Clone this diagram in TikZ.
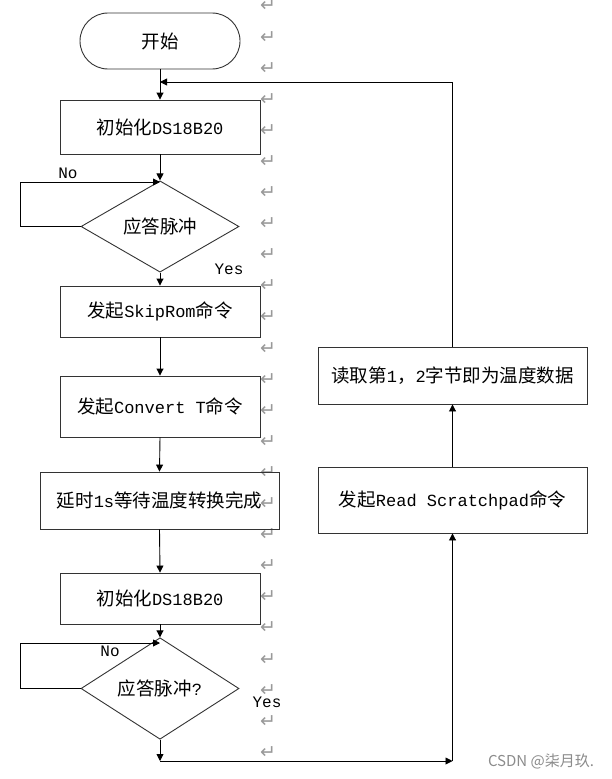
\documentclass[tikz,border=0pt]{standalone}
\usepackage{fontspec}
\setmainfont{Noto Sans CJK SC}
\newfontfamily\monofam{Liberation Mono}
\newfontfamily\symfam{DejaVu Sans}
\usetikzlibrary{shapes.geometric,arrows.meta}
\newcommand\lat[1]{{\monofam\fontsize{17}{20}\selectfont #1}}
\begin{document}
\begin{tikzpicture}[x=1pt,y=-1pt,line width=0.9pt,
  font=\fontsize{18.5}{20}\selectfont,
  box/.style={draw=black!80, rectangle, inner sep=0pt, minimum width=200pt},
  dec/.style={draw=black!80, diamond, inner sep=0pt, minimum width=158pt, minimum height=69pt},
  arr/.style={-{Triangle[length=7pt,width=7pt]}},
  lbl/.style={font=\monofam\fontsize{16}{18}\selectfont, inner sep=0pt},
  ret/.style={text=black!40, font=\symfam\fontsize{19}{20}\selectfont, inner sep=0pt},
  wm/.style={text=black!45, font=\fontsize{15}{16}\selectfont, inner sep=0pt}]
\fill[white] (0,0) rectangle (611,779);
\useasboundingbox (0,0) rectangle (611,779);

% paragraph marks
\foreach \i in {0,...,24}{
  \node[ret] (ret\i) at (268,{6+31.1*\i}) {↵};
}

% nodes
\node[draw=black!80, rectangle, rounded corners=28pt, minimum width=160pt, minimum height=56pt, inner sep=0pt] (start) at (160,41) {开始};
\node[box, minimum height=54pt] (init1) at (160,127) {初始化\lat{DS18B20}};
\node[dec] (d1) at (160,226.5) {应答脉冲};
\node[box, minimum height=51pt] (skip) at (160,311.5) {发起\lat{SkipRom}命令};
\node[box, minimum height=61pt] (conv) at (160,406.5) {发起\lat{Convert T}命令};
\node[box, minimum width=239pt, minimum height=57pt] (delay) at (159.5,500.5) {延时\lat{1s}等待温度转换完成};
\node[box, minimum height=51pt] (init2) at (160,598.5) {初始化\lat{DS18B20}};
\node[dec, minimum height=61pt] (d2) at (160,688.5) {应答脉冲\lat{?}};
\node[box, minimum width=269pt, minimum height=66pt] (rsp) at (452.5,500) {发起\lat{Read Scratchpad}命令};
\node[box, minimum width=269pt, minimum height=57pt] (data) at (452.5,375.5) {读取第\lat{1}，\lat{2}字节即为温度数据};

% labels
\node[lbl] (no1) at (68,173) {No};
\node[lbl] (yes1) at (229,269) {Yes};
\node[lbl] (no2) at (110,651) {No};
\node[lbl] (yes2) at (267,702) {Yes};
\node[wm] (wmark) at (541,761) {CSDN @柒月玖.};

% coordinates
\coordinate (merge) at (160,82);
\coordinate (l1a) at (20,226.5);
\coordinate (l1b) at (20,182);
\coordinate (j1) at (160,182);
\coordinate (l2a) at (20,688.5);
\coordinate (l2b) at (20,643);
\coordinate (j2) at (160,643);
\coordinate (bot) at (160,761);
\coordinate (botr) at (452.5,761);

% connectors
\draw[arr] (start.south) -- (init1.north);
\draw[arr] (data.north) -- (data.north |- merge) -- (merge);
\draw[arr] (init1.south) -- (d1.north);
\draw[arr] (d1.west) -- (l1a) -- (l1b) -- (j1);
\draw[arr] (d1.south) -- (skip.north);
\draw[arr] (skip.south) -- (conv.north);
\draw[arr] (conv.south) -- (delay.north);
\draw[arr] (delay.south) -- (init2.north);
\draw[arr] (init2.south) -- (d2.north);
\draw[arr] (d2.west) -- (l2a) -- (l2b) -- (j2);
\draw[arr] (d2.south) -- (bot);
\draw[arr] (bot) -- (botr);
\draw[arr] (botr) -- (rsp.south);
\draw[arr] (rsp.north) -- (data.south);
\end{tikzpicture}
\end{document}
